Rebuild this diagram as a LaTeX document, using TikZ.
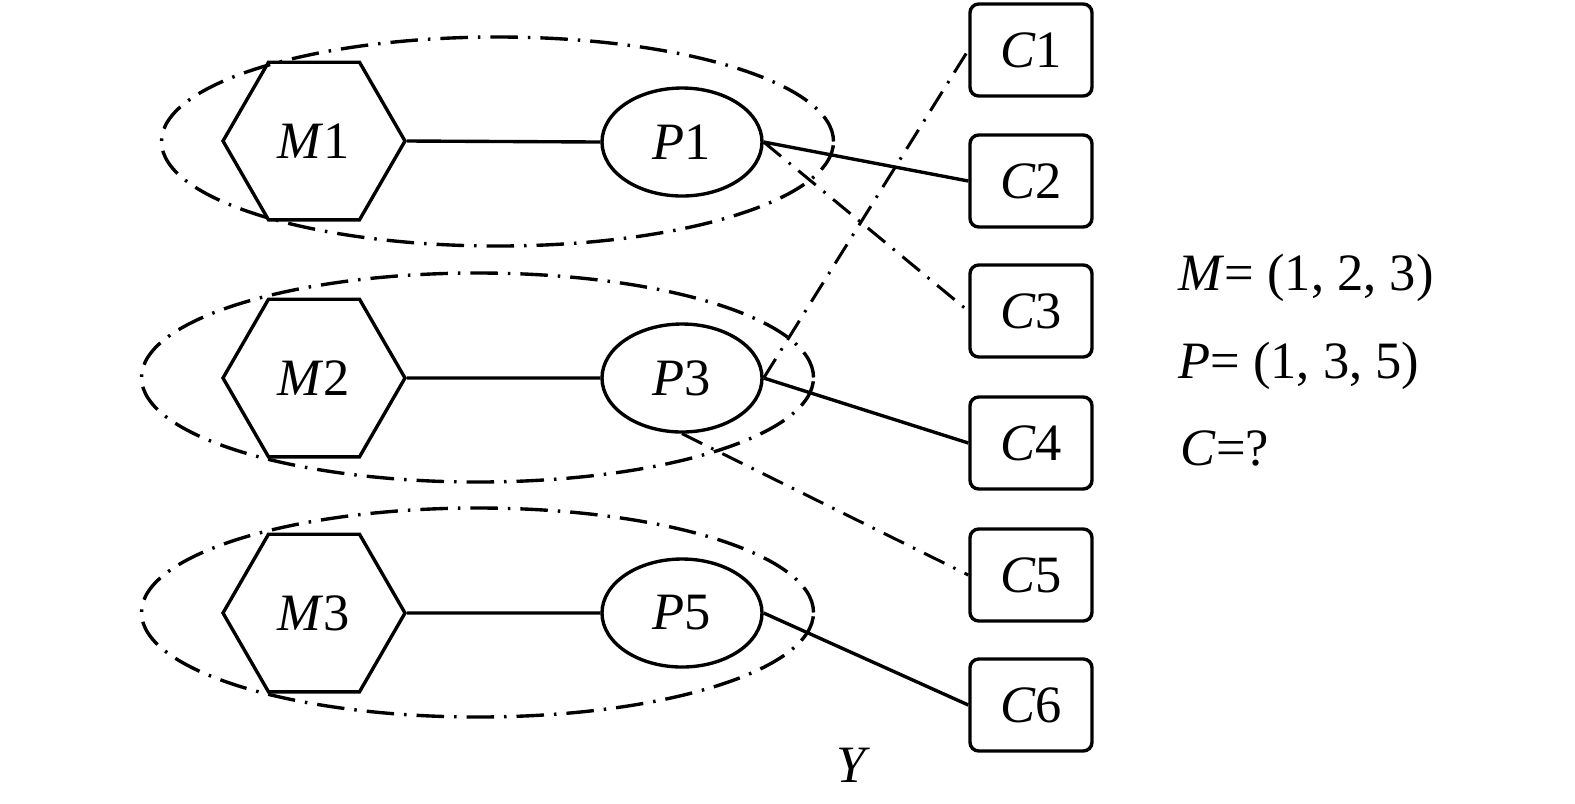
\documentclass[tikz,border=0pt]{standalone}
\usepackage{fontspec}
\setmainfont{Liberation Serif}
\usetikzlibrary{shapes.geometric}
\begin{document}
\begin{tikzpicture}[x=0.4pt,y=-0.4pt,
 lw/.style={line width=1.35pt},
 hexnode/.style={draw, lw, regular polygon, regular polygon sides=6, minimum size=72.8pt, inner sep=0pt},
 pnode/.style={draw, lw, ellipse, minimum width=64pt, minimum height=43.2pt, inner sep=0pt},
 cnode/.style={draw, lw, rounded corners=3.5pt, minimum width=48.8pt, minimum height=36.8pt, inner sep=0pt},
 grp/.style={draw, ellipse, line width=1.35pt, dash pattern=on 11pt off 4pt on 1pt off 4pt, minimum width=268.8pt, minimum height=83.6pt, inner sep=0pt},
 dd/.style={line width=1.2pt, dash pattern=on 9pt off 4pt on 1pt off 4pt},
 txt/.style={inner sep=0pt},
 font=\fontsize{21pt}{25pt}\selectfont]
\useasboundingbox (0,0) rectangle (1575,803);
% groups
\node[grp] (G1) at (497.5,141.5) {};
\node[grp] (G2) at (477.5,377.5) {};
\node[grp] (G3) at (477.5,612.5) {};
% M nodes
\node[hexnode] (M1) at (314,141) {\textit{M}1};
\node[hexnode] (M2) at (314,378) {\textit{M}2};
\node[hexnode] (M3) at (314,613) {\textit{M}3};
% P nodes
\node[pnode] (P1) at (682,142) {\textit{P}1};
\node[pnode] (P3) at (682,378) {\textit{P}3};
\node[pnode] (P5) at (682,613) {\textit{P}5};
% C nodes
\node[cnode] (C1) at (1031,50) {\textit{C}1};
\node[cnode] (C2) at (1031,181) {\textit{C}2};
\node[cnode] (C3) at (1031,311) {\textit{C}3};
\node[cnode] (C4) at (1031,443) {\textit{C}4};
\node[cnode] (C5) at (1031,575) {\textit{C}5};
\node[cnode] (C6) at (1031,705) {\textit{C}6};
% connectors
\draw[lw] (M1.east) -- (P1.west);
\draw[lw] (M2.east) -- (P3.west);
\draw[lw] (M3.east) -- (P5.west);
\draw[lw] (P1.east) -- (C2.west);
\draw[dd] (P1.east) -- (C3.west);
\draw[dd] (P3.east) -- (C1.west);
\draw[lw] (P3.east) -- (C4.west);
\draw[dd] (P3.south) -- (C5.west);
\draw[lw] (P5.east) -- (C6.west);
% texts
\node[txt, anchor=base west] (tM) at (1178,290) {\textit{M}= (1, 2, 3)};
\node[txt, anchor=base west] (tP) at (1178,378) {\textit{P}= (1, 3, 5)};
\node[txt, anchor=base west] (tC) at (1180,465) {\textit{C}=?};
\node[txt, anchor=base] (tY) at (853,782) {\textit{Y}};
\end{tikzpicture}
\end{document}
